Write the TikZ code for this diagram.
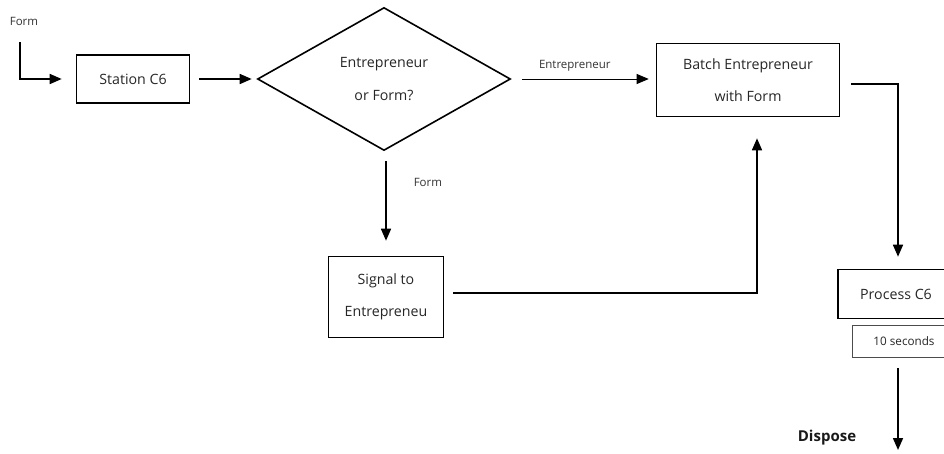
\documentclass[tikz,border=0pt]{standalone}
\usepackage{fontspec}
\setmainfont{Open Sans}
\usetikzlibrary{arrows.meta,shapes.geometric}

\tikzset{
  block/.style={draw, line width=1.6pt, align=center, inner sep=0pt, text=black!85},
  arr/.style={line width=1.6pt, -{Triangle[length=12pt,width=10pt]}},
  thinarr/.style={line width=0.8pt, -{Triangle[length=12pt,width=10pt]}},
  lbl/.style={font=\fontsize{11.5}{13}\selectfont, inner sep=0pt, text=black!80}
}

\begin{document}
\begin{tikzpicture}[x=1pt, y=-1pt, font=\fontsize{14.2}{17}\selectfont]
    % page
    \clip (0, 0) rectangle (944, 453);

    % Stations
    \node [block, minimum width=113pt, minimum height=48pt] (station) at (133, 79) {Station C6};
    \node [block, diamond, minimum width=253pt, minimum height=143pt] (decide) at (384, 79)
      {Entrepreneur\\[16pt]or Form?};
    \node [block, minimum width=183pt, minimum height=73pt] (batch) at (748, 80)
      {Batch Entrepreneur\\[15pt]with Form};
    \node [block, minimum width=115pt, minimum height=81pt] (signal) at (386, 297)
      {Signal to\\[15pt]Entrepreneu};
    \node [block, minimum width=116pt, minimum height=49pt] (process) at (896, 294) {Process C6};
    \node [draw=black!70, line width=0.8pt, minimum width=104pt, minimum height=32pt,
      text=black!85, font=\fontsize{11.7}{13}\selectfont] (time) at (904, 341) {10 seconds};

    % Entry and exit
    \coordinate (entry) at (20, 42);
    \coordinate (exit) at (898, 450);
    \node [lbl] (formin) at (24, 21) {Form};
    \node [font=\bfseries\fontsize{15}{17}\selectfont, text=black!90] (dispose) at (827, 438) {Dispose};

    % Flow
    \draw [arr, shorten >=14pt] (entry) |- (station.west);
    \draw [arr, shorten <=9pt, shorten >=5pt] (station.east) -- (decide.west);
    \draw [thinarr, shorten <=11pt, shorten >=7pt] (decide.east) -- (batch.west |- decide.east)
      node [lbl, pos=0.44, above=7pt] (yeslbl) {Entrepreneur};
    \draw [arr, shorten <=10pt, shorten >=15pt] ([xshift=2]decide.south) -- ([xshift=0]signal.north)
      node [lbl, pos=0.3, right=27pt] (nolbl) {Form};
    \draw [arr, shorten <=9pt, shorten >=21pt] ([yshift=4]signal.east) -| ([xshift=9]batch.south);
    \draw [arr, shorten <=11pt, shorten >=12pt] ([yshift=-4]batch.east) -| ([xshift=2]process.north);
    \draw [arr, shorten <=11pt] ([xshift=-6]time.south) -- (exit);
\end{tikzpicture}
\end{document}
